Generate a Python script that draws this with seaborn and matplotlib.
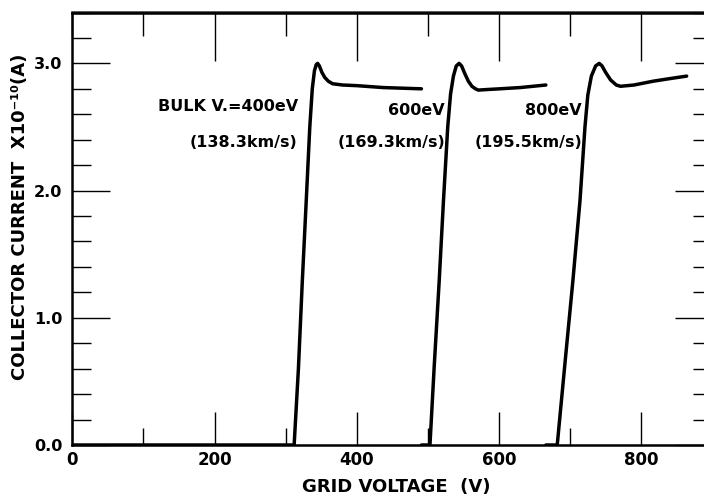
import matplotlib
matplotlib.use("Agg")
import matplotlib.pyplot as plt
import seaborn as sns
import pandas as pd
from matplotlib.ticker import MultipleLocator

# Collector current (x1e-10 A) versus grid voltage (V) for three bulk energies
v400 = [0, 312, 318, 323.5, 329, 334, 337.5, 340.5, 343, 345, 347.5, 351, 355, 360, 366, 380, 400, 437, 491]
i400 = [0, 0, 0.6, 1.29, 1.92, 2.5, 2.8, 2.94, 2.99, 3.0, 2.98, 2.93, 2.89, 2.86, 2.84, 2.83, 2.825, 2.81, 2.80]

v600 = [491, 503, 509, 516, 522, 528, 532, 536, 540, 544, 547.5, 552, 557, 562, 567, 571, 585, 601, 630, 666]
i600 = [0, 0, 0.62, 1.29, 1.92, 2.5, 2.76, 2.9, 2.98, 3.0, 2.98, 2.92, 2.86, 2.82, 2.80, 2.79, 2.795, 2.80, 2.81, 2.83]

v800 = [666, 682, 693, 704, 714, 721, 725, 730, 736, 741, 745, 750, 757, 765, 771, 790, 817, 840, 864]
i800 = [0, 0, 0.65, 1.29, 1.92, 2.5, 2.75, 2.9, 2.98, 3.0, 2.98, 2.93, 2.87, 2.83, 2.82, 2.83, 2.86, 2.88, 2.90]

energy_labels = ["BULK V.=400eV", "600eV", "800eV"]
speed_labels = ["(138.3km/s)", "(169.3km/s)", "(195.5km/s)"]
label_x = [317, 524, 717]
energy_y = [2.66, 2.63, 2.63]
speed_y = [2.38, 2.38, 2.38]

x_major = [0, 200, 400, 600, 800]
y_major = [0.0, 1.0, 2.0, 3.0]

df = pd.concat([
    pd.DataFrame({"V": v400, "I": i400, "run": "400"}),
    pd.DataFrame({"V": v600, "I": i600, "run": "600"}),
    pd.DataFrame({"V": v800, "I": i800, "run": "800"}),
], ignore_index=True)

sns.set_theme(style="ticks")
plt.rcParams["font.family"] = ["DejaVu Sans"]
plt.rcParams["font.weight"] = "bold"
plt.rcParams["text.color"] = "black"
plt.rcParams["axes.labelcolor"] = "black"
plt.rcParams["xtick.color"] = "black"
plt.rcParams["ytick.color"] = "black"

fig = plt.figure(figsize=(7.04, 5.0), dpi=100)
ax = fig.add_axes([0.1027, 0.110, 0.909, 0.865])

for run, sub in df.groupby("run"):
    sns.lineplot(data=sub, x="V", y="I", ax=ax, color="black", linewidth=2.5,
                 sort=False, estimator=None, legend=False)

ax.set_xlim(0, 900)
ax.set_ylim(0, 3.4)

ax.set_xticks(x_major)
ax.set_xticklabels([str(v) for v in x_major])
ax.xaxis.set_minor_locator(MultipleLocator(100))
ax.set_yticks(y_major)
ax.yaxis.set_minor_locator(MultipleLocator(0.2))
ax.set_yticklabels([f"{v:.1f}" for v in y_major])

for s in ax.spines.values():
    s.set_linewidth(1.8)
    s.set_color("black")

ax.tick_params(axis="both", which="both", direction="in", colors="black", width=1.0)
ax.tick_params(axis="x", which="major", length=24, pad=4, labelsize=12)
ax.tick_params(axis="x", which="minor", length=12)
ax.tick_params(axis="y", which="major", length=27, pad=7, labelsize=11.5, right=True)
ax.tick_params(axis="y", which="minor", length=14, right=True)

# top axis with its own (longer) inward ticks
top = ax.secondary_xaxis("top")
top.set_xticks(x_major[1:])
top.xaxis.set_minor_locator(MultipleLocator(100))
top.tick_params(axis="x", which="major", direction="in", length=35, width=1.0,
                labeltop=False, colors="black")
top.tick_params(axis="x", which="minor", direction="in", length=17, width=1.0, colors="black")
top.spines["top"].set_linewidth(1.8)

ax.set_xlabel("GRID VOLTAGE  (V)", fontsize=13, fontweight="bold")
ax.set_ylabel("COLLECTOR CURRENT  X10⁻¹⁰(A)", fontsize=13, fontweight="bold")
ax.xaxis.set_label_coords(0.506, -0.098)
ax.yaxis.set_label_coords(-0.082, 0.527)
ax.xaxis.label.set_va("center")
ax.yaxis.label.set_va("center")

for x, ey, sy, el, sl in zip(label_x, energy_y, speed_y, energy_labels, speed_labels):
    ax.text(x, ey, el, ha="right", va="center", fontsize=11.5, fontweight="bold")
    ax.text(x, sy, sl, ha="right", va="center", fontsize=11.5, fontweight="bold")

fig.savefig("out.png", dpi=100)
